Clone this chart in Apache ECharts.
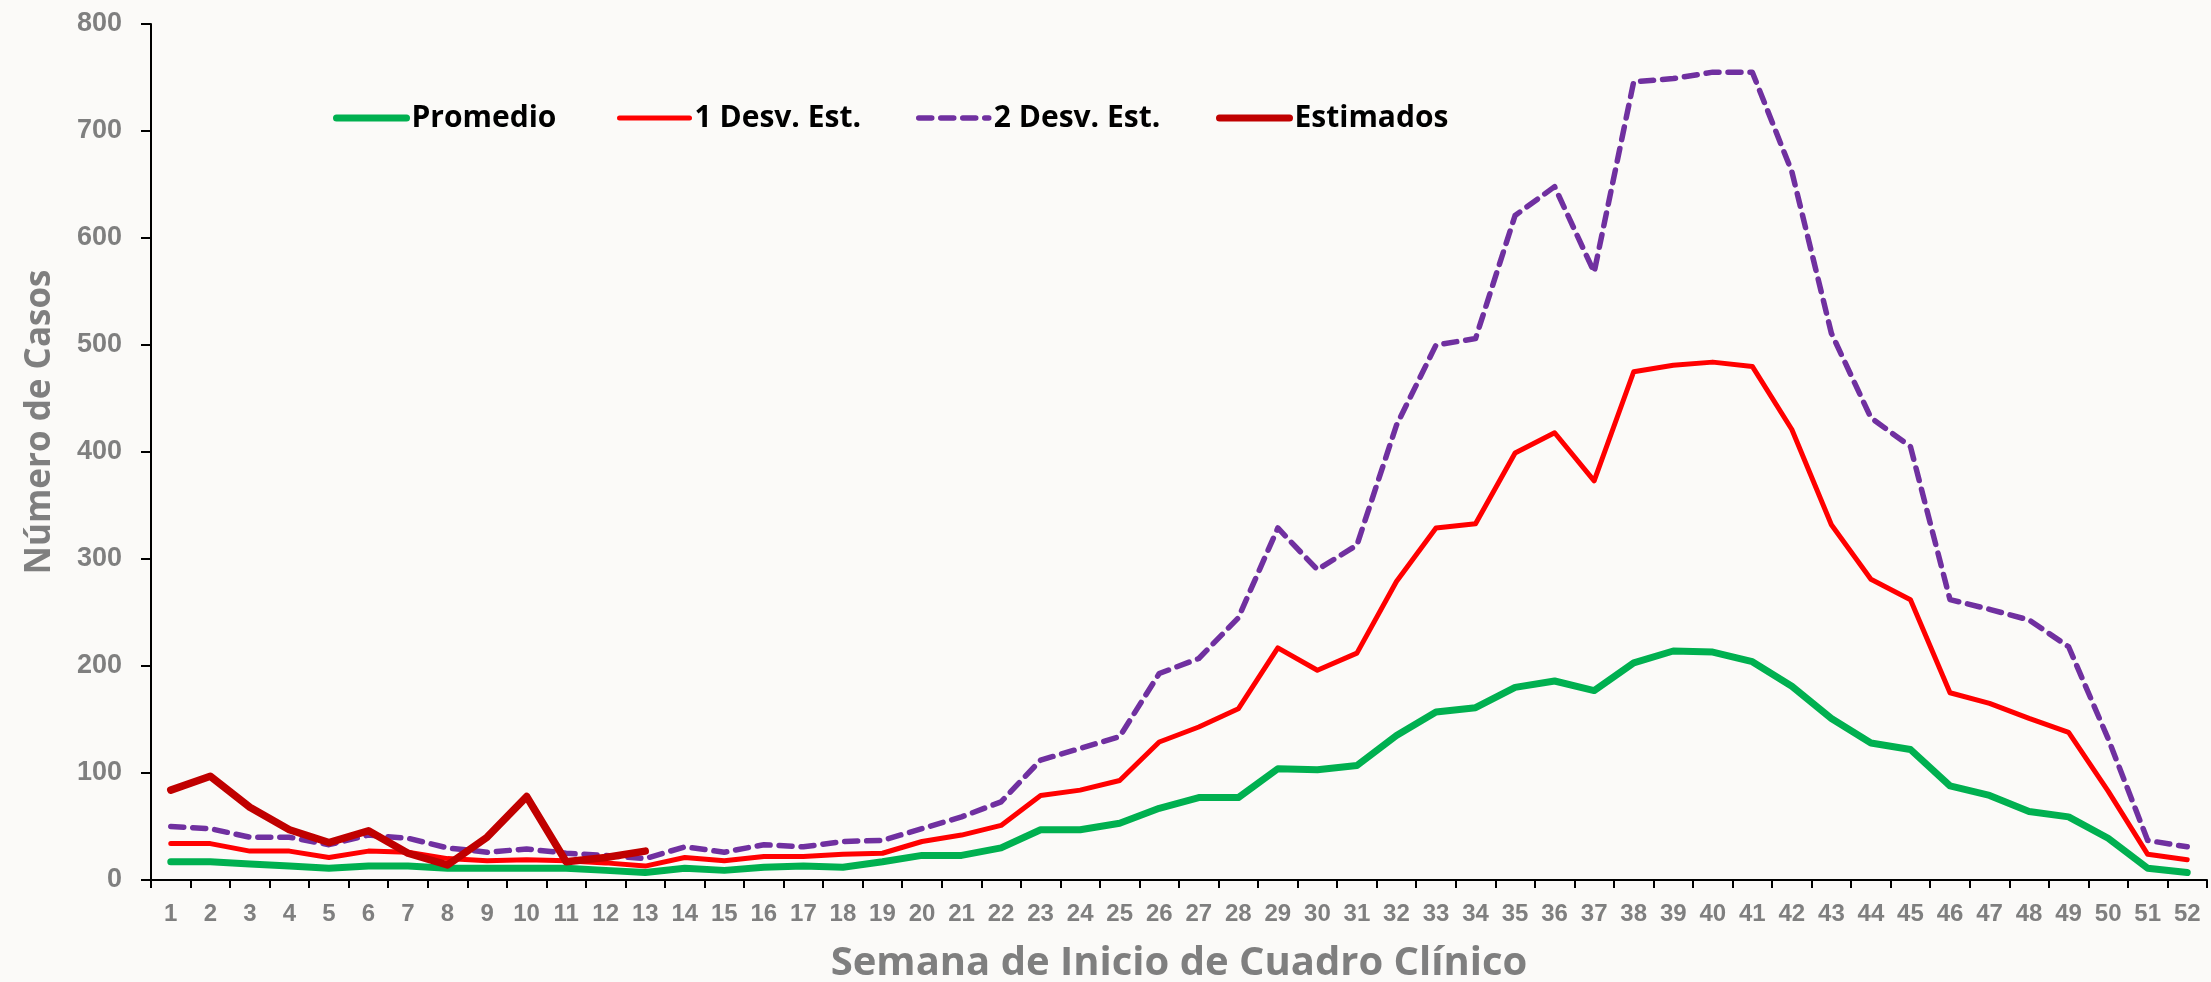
<!DOCTYPE html>
<html>
<head>
<meta charset="utf-8">
<script src="https://cdn.jsdelivr.net/npm/echarts@6/dist/echarts.min.js"></script>
<style>
  html, body { margin: 0; padding: 0; background: #fbfaf8; }
  #chart { width: 2211px; height: 982px; }
</style>
</head>
<body>
<div id="chart"></div>
<script>
const weeks = ['1','2','3','4','5','6','7','8','9','10','11','12','13','14','15','16','17','18','19','20','21','22','23','24','25','26','27','28','29','30','31','32','33','34','35','36','37','38','39','40','41','42','43','44','45','46','47','48','49','50','51','52'];
const promedio = [17,17,15,13,11,13,13,11,11,11,11,9,7,11,9,12,13,12,17,23,23,30,47,47,53,67,77,77,104,103,107,135,157,161,180,186,177,203,214,213,204,181,151,128,122,88,79,64,59,39,11,7];
const desv1 = [34,34,27,27,21,27,26,20,18,19,18,16,13,21,18,22,22,24,25,36,42,51,79,84,93,129,143,160,217,196,212,279,329,333,399,418,373,475,481,484,480,421,332,281,262,175,165,151,138,83,24,19];
const desv2 = [50,48,40,40,33,42,39,30,26,29,25,23,20,31,26,33,31,36,37,48,59,73,112,123,134,193,207,245,329,290,313,425,500,506,621,648,568,746,749,755,755,662,511,432,405,262,253,243,218,132,37,31];
const estimados = [84,97,68,47,35,46,25,14,40,78,17,21,27];
const yTicks = { min: 0, max: 800, interval: 100 };

const names = ['Promedio', '1 Desv. Est.', '2 Desv. Est.', 'Estimados'];
const colors = { green: '#00B050', red: '#FF0000', purple: '#7030A0', dark: '#C00000' };

const chart = echarts.init(document.getElementById('chart'));
const legendText = { fontFamily: 'Open Sans', fontWeight: 'bold', fontSize: 30, color: '#000' };
function mkLegend(name, left, width) {
  return {
    data: [name], left: left, top: 103, padding: 0, itemWidth: 70, itemHeight: 14, itemGap: 0,
    textStyle: legendText, lineStyle: { width: width, cap: 'round' },
    itemStyle: { opacity: 0 }, selectedMode: false
  };
}
const option = {
  backgroundColor: '#fbfaf8',
  animation: false,
  legend: [
    mkLegend(names[0], 333, 7),
    mkLegend(names[1], 617, 5),
    mkLegend(names[2], 916, 5.5),
    mkLegend(names[3], 1216, 7)
  ],
  grid: { left: 151, right: 4, top: 24, bottom: 102, containLabel: false, outerBoundsMode: 'none' },
  xAxis: {
    type: 'category', data: weeks, boundaryGap: true,
    axisLine: { lineStyle: { color: '#000', width: 2 } },
    axisTick: { show: true, interval: 0, length: 8, lineStyle: { color: '#000', width: 2 } },
    axisLabel: { interval: 0, margin: 22, color: '#7f7f7f', fontFamily: 'Liberation Sans', fontWeight: 'bold', fontSize: 24 },
    name: 'Semana de Inicio de Cuadro Clínico', nameLocation: 'middle', nameGap: 64,
    nameTextStyle: { color: '#7f7f7f', fontFamily: 'Open Sans', fontWeight: 'bold', fontSize: 40 }
  },
  yAxis: {
    type: 'value', min: yTicks.min, max: yTicks.max, interval: yTicks.interval,
    splitLine: { show: false },
    axisLine: { show: true, lineStyle: { color: '#000', width: 2 } },
    axisTick: { show: true, length: 10, lineStyle: { color: '#000', width: 2 } },
    axisLabel: { margin: 29, color: '#7f7f7f', fontFamily: 'Liberation Sans', fontWeight: 'bold', fontSize: 27 }
  },
  graphic: [{
    type: 'text', x: 40, y: 422, rotation: Math.PI / 2,
    style: { text: 'Número de Casos', fill: '#7f7f7f', font: 'bold 35px "Open Sans"', align: 'center', verticalAlign: 'middle' }
  }],
  series: [
    { name: names[2], type: 'line', data: desv2, symbol: 'none', z: 2,
      lineStyle: { color: colors.purple, width: 5.5, type: [13, 9], cap: 'round', join: 'round' }, itemStyle: { color: colors.purple } },
    { name: names[1], type: 'line', data: desv1, symbol: 'none', z: 3,
      lineStyle: { color: colors.red, width: 5, cap: 'round', join: 'round' }, itemStyle: { color: colors.red } },
    { name: names[0], type: 'line', data: promedio, symbol: 'none', z: 4,
      lineStyle: { color: colors.green, width: 7, cap: 'round', join: 'round' }, itemStyle: { color: colors.green } },
    { name: names[3], type: 'line', data: estimados, symbol: 'none', z: 5,
      lineStyle: { color: colors.dark, width: 7.5, cap: 'round', join: 'round' }, itemStyle: { color: colors.dark } }
  ]
};
chart.setOption(option);
</script>
</body>
</html>
